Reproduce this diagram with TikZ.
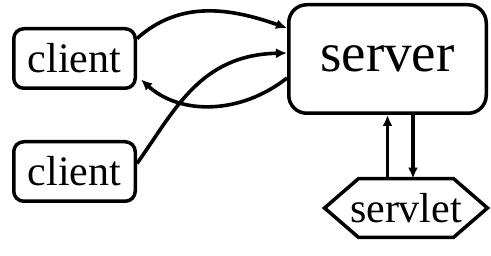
\documentclass[tikz,border=0pt]{standalone}
\usepackage{fontspec}
\setmainfont{Liberation Serif}
\usetikzlibrary{arrows.meta}
\tikzset{
  box/.style = {draw = black, line width = 3.5pt, rounded corners = 10pt, inner sep = 0pt},
  arr/.style = {line width = 3.6pt, -{Latex[length = 11pt, width = 10pt]}},
}
\begin{document}
\begin{tikzpicture}[x = 1pt, y = -1pt]
\useasboundingbox (0,0) rectangle (491,256);
\pgfmathsetmacro\lw{3.5};
% two clients on the left
\foreach \n/\y in {1/58.5, 2/171.5}
  \node[box, minimum width = 125pt-\lw pt, minimum height = 63pt-\lw pt, font = \fontsize{42}{48}\selectfont] (client\n) at (74.5,\y) {client};
\node[box, rounded corners = 18pt, minimum width = 201pt-\lw pt, minimum height = 112pt-\lw pt, font = \fontsize{55}{60}\selectfont] (server) at (387.5,59) {server};
\node[minimum width = 166pt-\lw pt, minimum height = 62pt-\lw pt, inner sep = 0pt, font = \fontsize{42}{48}\selectfont] (servlet) at (406,208) {servlet};
\draw[line width = \lw pt, line join = miter] (servlet.west) -- ([xshift = 34pt]servlet.north west) -- ([xshift = -34pt]servlet.north east)
  -- (servlet.east) -- ([xshift = -34pt]servlet.south east) -- ([xshift = 34pt]servlet.south west) -- cycle;
% requests and replies
\draw[arr] ([yshift = 20pt]client1.east) .. controls (180,0) and (230,8) .. ([yshift = 31pt]server.west);
\draw[arr] ([yshift = -19pt]server.west) .. controls (240,115) and (180,115) .. ([xshift = 4pt, yshift = -21pt]client1.east);
\draw[arr] ([yshift = 8pt]client2.east) .. controls (175,110) and (200,55) .. ([yshift = 6pt]server.west);
\draw[arr] (servlet.north -| server.south) -- (server.south);
\draw[arr] ([xshift = 25.5pt]server.south) -- ([xshift = 25.5pt]server.south |- servlet.north);
\end{tikzpicture}
\end{document}
